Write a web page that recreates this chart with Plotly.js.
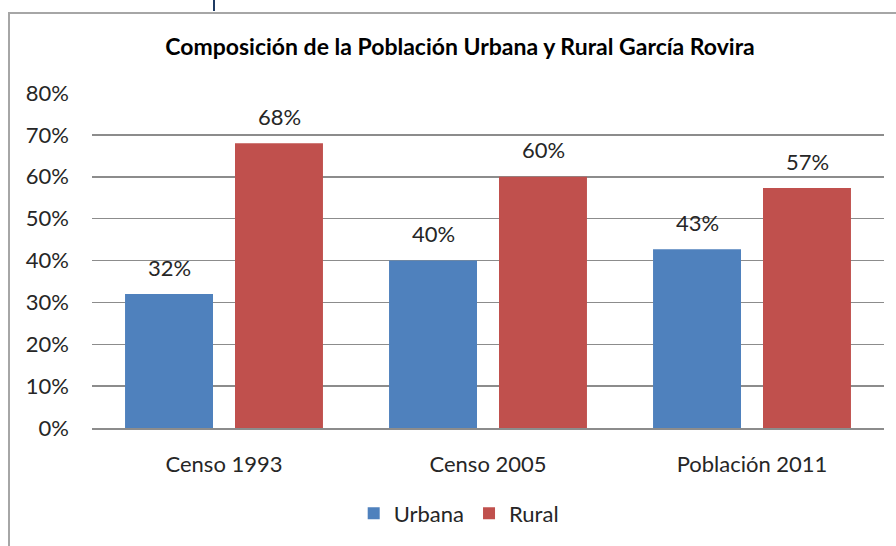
<!DOCTYPE html>
<html><head><meta charset="utf-8">
<script src="https://cdn.plot.ly/plotly-3.0.1.min.js"></script>
<style>
html,body{margin:0;padding:0;background:#fff;}
#wrap{position:relative;width:896px;height:546px;overflow:hidden;}
#chart{width:896px;height:546px;}
#frame{position:absolute;left:8px;top:12px;width:900px;height:560px;border-left:2px solid #a6a6a6;border-top:2px solid #a6a6a6;pointer-events:none;}
#mark{position:absolute;left:213px;top:0;width:2px;height:11px;background:#1f3b63;}
</style></head>
<body><div id="wrap"><div id="chart"></div><div id="frame"></div><div id="mark"></div></div>
<script>
const categories = ["Censo 1993", "Censo 2005", "Población 2011"];
const urbana = [0.32, 0.40, 0.427];
const rural = [0.68, 0.60, 0.573];
const yTickVals = [0, 0.1, 0.2, 0.3, 0.4, 0.5, 0.6, 0.7, 0.8];

const font = "Lato, 'Noto Sans', sans-serif";
const txt = '#262626';
const traces = [
  {type:'bar', name:'Urbana', x:categories, y:urbana, marker:{color:'#4F81BD'}},
  {type:'bar', name:'Rural', x:categories, y:rural, marker:{color:'#C0504D'}}
];
const annotations = [];
[[urbana, -55], [rural, 55]].forEach(([vals, dx]) => {
  vals.forEach((v, i) => annotations.push({
    x: categories[i], y: v, xref:'x', yref:'y', text: Math.round(v*100) + '%',
    showarrow:false, xshift:dx, yshift:27, yanchor:'middle',
    font:{size:22, family:font, color:txt}
  }));
});
const layout = {
  width:896, height:546,
  margin:{l:92, r:12, t:93, b:116},
  paper_bgcolor:'#fff', plot_bgcolor:'#fff',
  font:{family:font, color:txt, size:22},
  title:{text:'<b>Composición de la Población Urbana y Rural García Rovira</b>',
         font:{size:23, family:font, color:'#000'}, x:460/896, xanchor:'center', y:1-47/546, yanchor:'middle', yref:'container', xref:'container'},
  barmode:'group', bargap:0.167, bargroupgap:0.2,
  xaxis:{showgrid:false, showline:true, linecolor:'#8c8c8c', linewidth:2, ticks:'',
         tickfont:{size:22, family:font, color:txt}, ticklabelstandoff:16},
  yaxis:{range:[0,0.8], tickvals:yTickVals, tickformat:'.0%', showgrid:true, gridcolor:'#8c8c8c', gridwidth:1.5,
         zeroline:false, showline:false, ticks:'', ticklabelstandoff:22,
         tickfont:{size:22, family:font, color:txt}},
  annotations: annotations,
  showlegend:true,
  legend:{orientation:'h', x:0.463, xanchor:'center', y:-86/337, yanchor:'middle',
          font:{size:22, family:font, color:txt}, itemwidth:30, traceorder:'normal'}
};
Plotly.newPlot('chart', traces, layout, {displayModeBar:false, staticPlot:true});
</script></body></html>
